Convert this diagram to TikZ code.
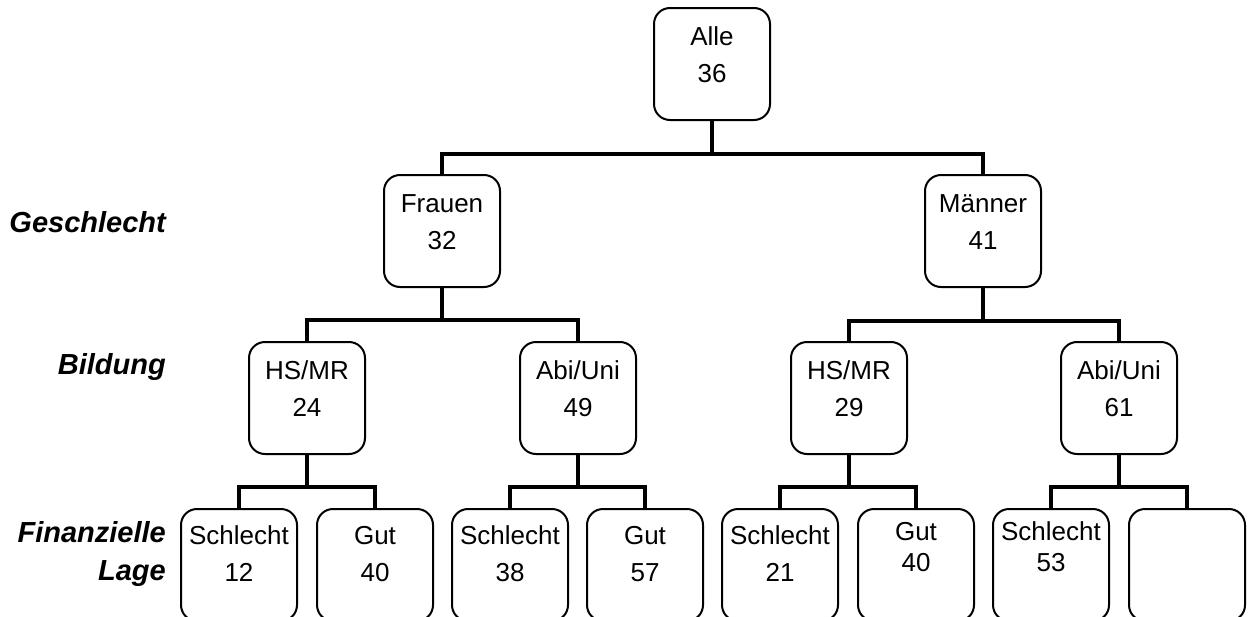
\documentclass[tikz,border=0pt]{standalone}
\usepackage{fontspec}
\setmainfont{Liberation Sans}
\usetikzlibrary{positioning}

\tikzset{
  box/.style={draw, line width=2pt, rounded corners=16pt, inner sep=0pt,
    text width=116pt, align=center, text height=37pt, text depth=75pt,
    font=\fontsize{26}{37}\selectfont, anchor=north},
  tightbox/.style={box, text height=31pt, text depth=81pt,
    font=\fontsize{26}{31}\selectfont},
  link/.style={line width=3.2pt},
  level/.style={inner sep=0pt, text width=170pt, align=right, anchor=base east,
    font=\fontsize{29}{38}\selectfont\bfseries\itshape}
}

\begin{document}
\begin{tikzpicture}[x=1pt, y=-1pt]
  \useasboundingbox (0,0) rectangle (1252,616);
  \clip (0,0) rectangle (1252,616);

  \node[level] (geschlecht) at (166,232) {Geschlecht};
  \node[level] (bildung) at (166,374) {Bildung};
  \node[level] (finanz) at (166,542) {Finanzielle\\Lage};

  \node[box] (alle) at (712,7) {Alle\\36};

  \node[box] (frauen) at (442,174) {Frauen\\32};
  \node[box] (maenner) at (983,174) {Männer\\41};

  \node[box] (fhs) at (307,341) {HS/MR\\24};
  \node[box] (fabi) at (578,341) {Abi/Uni\\49};
  \node[box] (mhs) at (849,341) {HS/MR\\29};
  \node[box] (mabi) at (1119,341) {Abi/Uni\\61};

  \node[box, text height=35pt, text depth=77pt] (fhs-s) at (239,508) {Schlecht\\12};
  \node[box, text height=35pt, text depth=77pt] (fhs-g) at (375,508) {Gut\\40};
  \node[box, text height=35pt, text depth=77pt] (fabi-s) at (510,508) {Schlecht\\38};
  \node[box, text height=35pt, text depth=77pt] (fabi-g) at (645,508) {Gut\\57};
  \node[box, text height=35pt, text depth=77pt] (mhs-s) at (780,508) {Schlecht\\21};
  \node[tightbox] (mhs-g) at (916,508) {Gut\\40};
  \node[tightbox] (mabi-s) at (1051,508) {Schlecht\\53};
  \node[box] (mabi-g) at (1187,508) {};

  \draw[link] (alle.south) -- ++(0,33) -| (frauen.north);
  \draw[link] (alle.south) -- ++(0,33) -| (maenner.north);

  \draw[link] (frauen.south) -- ++(0,32) -| (fhs.north);
  \draw[link] (frauen.south) -- ++(0,32) -| (fabi.north);
  \draw[link] (maenner.south) -- ++(0,33) -| (mhs.north);
  \draw[link] (maenner.south) -- ++(0,33) -| (mabi.north);

  \draw[link] (fhs.south) -- ++(0,32) -| (fhs-s.north);
  \draw[link] (fhs.south) -- ++(0,32) -| (fhs-g.north);
  \draw[link] (fabi.south) -- ++(0,32) -| (fabi-s.north);
  \draw[link] (fabi.south) -- ++(0,32) -| (fabi-g.north);
  \draw[link] (mhs.south) -- ++(0,32) -| (mhs-s.north);
  \draw[link] (mhs.south) -- ++(0,32) -| (mhs-g.north);
  \draw[link] (mabi.south) -- ++(0,32) -| (mabi-s.north);
  \draw[link] (mabi.south) -- ++(0,32) -| (mabi-g.north);
\end{tikzpicture}
\end{document}
